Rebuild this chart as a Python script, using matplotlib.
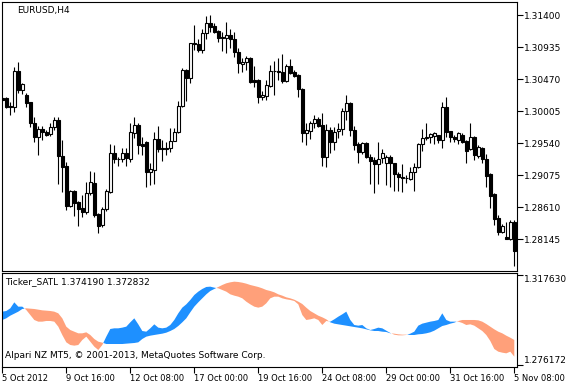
import numpy as np
import matplotlib.pyplot as plt

# EURUSD H4 candles, 5 Oct 2012 00:00 .. 5 Nov 2012 08:00
opens = [1.30189, 1.30192, 1.30080, 1.30061, 1.30588, 1.30312, 1.30240, 1.30134, 1.29838, 1.29626,
         1.29742, 1.29707, 1.29674, 1.29771, 1.29877, 1.29359, 1.29209, 1.28629, 1.28847, 1.28691,
         1.28596, 1.28546, 1.28813, 1.28967, 1.28508, 1.28353, 1.28581, 1.28836, 1.29394, 1.29314,
         1.29307, 1.29394, 1.29307, 1.29693, 1.29804, 1.29529, 1.29553, 1.29127, 1.29151, 1.29597,
         1.29466, 1.29466, 1.29466, 1.29576, 1.29707, 1.30080, 1.30602, 1.30482, 1.30998, 1.30975,
         1.30892, 1.31135, 1.31280, 1.31241, 1.31168, 1.31081, 1.31071, 1.31110, 1.31048, 1.30859,
         1.30689, 1.30714, 1.30772, 1.30457, 1.30457, 1.30206, 1.30229, 1.30370, 1.30591, 1.30583,
         1.30578, 1.30443, 1.30660, 1.30578, 1.30530, 1.30322, 1.29693, 1.29722, 1.29838, 1.29891,
         1.29804, 1.29344, 1.29732, 1.29562, 1.29717, 1.29742, 1.30007, 1.30119, 1.29732, 1.29529,
         1.29417, 1.29539, 1.29336, 1.29296, 1.29238, 1.29321, 1.29249, 1.29344, 1.29249, 1.29093,
         1.29050, 1.29040, 1.29021, 1.29127, 1.29190, 1.29524, 1.29611, 1.29626, 1.29649, 1.29659,
         1.29587, 1.30061, 1.29717, 1.29634, 1.29587, 1.29659, 1.29576, 1.29452, 1.29634, 1.29354,
         1.29475, 1.29307, 1.29089, 1.28803, 1.28450, 1.28256, 1.28184, 1.28146, 1.28396]
highs = [1.30211, 1.30215, 1.30142, 1.30650, 1.30723, 1.30414, 1.30264, 1.30138, 1.29925, 1.29790,
         1.29790, 1.29732, 1.29829, 1.29925, 1.29916, 1.29587, 1.29267, 1.28861, 1.28861, 1.28701,
         1.28789, 1.28977, 1.29137, 1.29122, 1.28523, 1.28618, 1.28871, 1.29524, 1.29514, 1.29344,
         1.29466, 1.29471, 1.29838, 1.29925, 1.29838, 1.29630, 1.29572, 1.29253, 1.29707, 1.29790,
         1.29587, 1.29562, 1.29756, 1.29761, 1.30152, 1.30627, 1.30612, 1.30998, 1.31255, 1.31048,
         1.31193, 1.31386, 1.31400, 1.31280, 1.31183, 1.31149, 1.31294, 1.31193, 1.31158, 1.30926,
         1.30781, 1.30805, 1.30787, 1.30660, 1.30472, 1.30302, 1.30457, 1.30675, 1.30737, 1.30772,
         1.30834, 1.30689, 1.30758, 1.30602, 1.30544, 1.30337, 1.29833, 1.29867, 1.29949, 1.29925,
         1.29983, 1.29819, 1.29780, 1.29780, 1.29829, 1.30047, 1.30240, 1.30142, 1.29790, 1.29562,
         1.29562, 1.29562, 1.29379, 1.29336, 1.29562, 1.29452, 1.29369, 1.29369, 1.29253, 1.29122,
         1.29238, 1.29079, 1.29199, 1.29257, 1.29539, 1.29742, 1.29838, 1.29684, 1.29698, 1.29659,
         1.30142, 1.30215, 1.29717, 1.29659, 1.29698, 1.29684, 1.29587, 1.29829, 1.29645, 1.29514,
         1.29489, 1.29383, 1.29103, 1.28822, 1.28498, 1.28368, 1.28401, 1.28426, 1.28426]
lows = [1.30152, 1.30047, 1.29949, 1.29997, 1.30264, 1.30254, 1.30061, 1.29780, 1.29562, 1.29369,
        1.29587, 1.29649, 1.29649, 1.29732, 1.28951, 1.28835, 1.28571, 1.28610, 1.28484, 1.28339,
        1.28474, 1.28513, 1.28789, 1.28465, 1.28242, 1.28320, 1.28561, 1.28813, 1.29249, 1.29214,
        1.29263, 1.29214, 1.29272, 1.29611, 1.29383, 1.29369, 1.28909, 1.28934, 1.28948, 1.29417,
        1.29286, 1.29369, 1.29417, 1.29572, 1.29693, 1.30070, 1.30157, 1.30418, 1.30892, 1.30868,
        1.30853, 1.31048, 1.31149, 1.31135, 1.31013, 1.30882, 1.30845, 1.30917, 1.30795, 1.30563,
        1.30578, 1.30602, 1.30418, 1.30351, 1.30128, 1.30167, 1.30167, 1.30351, 1.30240, 1.30457,
        1.30418, 1.30433, 1.30544, 1.30505, 1.30215, 1.29562, 1.29514, 1.29597, 1.29756, 1.29780,
        1.29209, 1.29199, 1.29402, 1.29441, 1.29611, 1.29659, 1.29877, 1.29649, 1.29441, 1.29257,
        1.29383, 1.29321, 1.28951, 1.28813, 1.28951, 1.29249, 1.28941, 1.28908, 1.28851, 1.28851,
        1.28836, 1.28963, 1.29006, 1.28851, 1.29176, 1.29431, 1.29587, 1.29547, 1.29529, 1.29547,
        1.29466, 1.29626, 1.29562, 1.29562, 1.29529, 1.29539, 1.29249, 1.29441, 1.29296, 1.29321,
        1.29257, 1.28909, 1.28600, 1.28353, 1.28208, 1.28242, 1.28146, 1.28136, 1.27758]
closes = [1.30174, 1.30070, 1.30065, 1.30588, 1.30312, 1.30399, 1.30128, 1.29829, 1.29626, 1.29742,
          1.29707, 1.29659, 1.29771, 1.29877, 1.29359, 1.29199, 1.28629, 1.28847, 1.28677, 1.28581,
          1.28546, 1.28813, 1.28977, 1.28498, 1.28343, 1.28585, 1.28847, 1.29394, 1.29307, 1.29304,
          1.29394, 1.29321, 1.29698, 1.29804, 1.29514, 1.29504, 1.29127, 1.29161, 1.29597, 1.29452,
          1.29452, 1.29452, 1.29576, 1.29707, 1.30080, 1.30602, 1.30482, 1.30990, 1.30975, 1.30892,
          1.31135, 1.31280, 1.31231, 1.31149, 1.31071, 1.31071, 1.31110, 1.31048, 1.30859, 1.30700,
          1.30723, 1.30772, 1.30433, 1.30433, 1.30206, 1.30240, 1.30385, 1.30588, 1.30583, 1.30576,
          1.30443, 1.30660, 1.30563, 1.30515, 1.30322, 1.29693, 1.29732, 1.29838, 1.29891, 1.29790,
          1.29344, 1.29732, 1.29562, 1.29707, 1.29746, 1.30007, 1.30119, 1.29732, 1.29514, 1.29417,
          1.29539, 1.29336, 1.29286, 1.29238, 1.29307, 1.29394, 1.29336, 1.29249, 1.29093, 1.29045,
          1.29040, 1.29031, 1.29127, 1.29190, 1.29524, 1.29611, 1.29634, 1.29669, 1.29684, 1.29587,
          1.30061, 1.29707, 1.29626, 1.29597, 1.29684, 1.29562, 1.29431, 1.29634, 1.29369, 1.29481,
          1.29307, 1.29064, 1.28774, 1.28440, 1.28256, 1.28339, 1.28150, 1.28401, 1.27976]

# Ticker_SATL indicator: the two filled lines
satl_fast = [1.30075, 1.30105, 1.30228, 1.30504, 1.30305, 1.30305, 1.30151, 1.29921, 1.29691, 1.29614,
             1.29614, 1.29645, 1.29645, 1.29614, 1.29384, 1.29000, 1.28662, 1.28539, 1.28509, 1.28539,
             1.28770, 1.28923, 1.28693, 1.28463, 1.28309, 1.28539, 1.28923, 1.29276, 1.29307, 1.29307,
             1.29338, 1.29384, 1.29583, 1.29768, 1.29491, 1.29184, 1.29153, 1.29307, 1.29491, 1.29338,
             1.29307, 1.29338, 1.29460, 1.29691, 1.29998, 1.30259, 1.30412, 1.30612, 1.30842, 1.30996,
             1.31119, 1.31211, 1.31226, 1.31180, 1.31149, 1.31073, 1.30996, 1.30873, 1.30812, 1.30765,
             1.30689, 1.30535, 1.30412, 1.30305, 1.30259, 1.30305, 1.30458, 1.30689, 1.30765, 1.30765,
             1.30689, 1.30643, 1.30612, 1.30566, 1.30412, 1.29921, 1.29691, 1.29721, 1.29768, 1.29691,
             1.29460, 1.29645, 1.29614, 1.29721, 1.29844, 1.29952, 1.30075, 1.29691, 1.29460, 1.29430,
             1.29460, 1.29307, 1.29230, 1.29276, 1.29338, 1.29307, 1.29199, 1.29092, 1.29015, 1.28985,
             1.28985, 1.29000, 1.29061, 1.29153, 1.29430, 1.29522, 1.29568, 1.29614, 1.29645, 1.29691,
             1.29998, 1.29691, 1.29614, 1.29614, 1.29614, 1.29553, 1.29460, 1.29491, 1.29430, 1.29307,
             1.29184, 1.29000, 1.28724, 1.28355, 1.28232, 1.28186, 1.28155, 1.28232, 1.28002]
satl_slow = [1.29691, 1.29768, 1.29890, 1.29982, 1.30075, 1.30197, 1.30228, 1.30213, 1.30197, 1.30167,
             1.30136, 1.30121, 1.30105, 1.30075, 1.29998, 1.29768, 1.29384, 1.29230, 1.29153, 1.29077,
             1.29077, 1.29123, 1.29000, 1.28816, 1.28693, 1.28647, 1.28585, 1.28585, 1.28585, 1.28585,
             1.28585, 1.28601, 1.28616, 1.28631, 1.28662, 1.28816, 1.28923, 1.28969, 1.29000, 1.29031,
             1.29061, 1.29107, 1.29184, 1.29276, 1.29414, 1.29583, 1.29768, 1.30044, 1.30305, 1.30504,
             1.30689, 1.30873, 1.31026, 1.31119, 1.31211, 1.31303, 1.31380, 1.31426, 1.31456, 1.31441,
             1.31410, 1.31364, 1.31303, 1.31257, 1.31211, 1.31149, 1.31073, 1.31026, 1.30965, 1.30873,
             1.30812, 1.30735, 1.30689, 1.30627, 1.30535, 1.30428, 1.30259, 1.30105, 1.29998, 1.29890,
             1.29814, 1.29721, 1.29583, 1.29522, 1.29491, 1.29460, 1.29430, 1.29399, 1.29368, 1.29338,
             1.29307, 1.29261, 1.29215, 1.29184, 1.29184, 1.29153, 1.29138, 1.29077, 1.29061, 1.29031,
             1.29015, 1.29015, 1.29000, 1.29000, 1.29031, 1.29046, 1.29077, 1.29123, 1.29199, 1.29307,
             1.29414, 1.29460, 1.29522, 1.29568, 1.29645, 1.29691, 1.29691, 1.29691, 1.29691, 1.29675,
             1.29614, 1.29506, 1.29384, 1.29261, 1.29153, 1.29077, 1.28969, 1.28877, 1.28770]

price_ticks = [1.31400, 1.30935, 1.30470, 1.30005, 1.29540, 1.29075, 1.28610, 1.28145]
sub_ticks = [1.317630, 1.276172]
time_labels = ['5 Oct 2012', '9 Oct 16:00', '12 Oct 08:00', '17 Oct 00:00', '19 Oct 16:00',
               '24 Oct 08:00', '29 Oct 00:00', '31 Oct 16:00', '5 Nov 08:00']

BLUE = '#1E90FF'
SALMON = '#FFA07A'
FS = 6.5
W, H = 567, 384

fig = plt.figure(figsize=(W / 100, H / 100), dpi=100)
ax = fig.add_axes([2 / W, 1 - 271 / H, 515 / W, 269 / H])
ax2 = fig.add_axes([2 / W, 1 - 367 / H, 515 / W, 94 / H])

o, h, l, c = (np.array(v) for v in (opens, highs, lows, closes))
x = np.arange(len(o))

# candles
ax.vlines(x, l, h, color='black', linewidth=0.8, zorder=2)
bull = c >= o
ax.bar(x, np.abs(c - o), bottom=np.minimum(o, c), width=0.62,
       color=np.where(bull, 'white', 'black'), edgecolor='black', linewidth=0.8, zorder=3)

ax.set_xlim(-0.075, 128.675)
ax.set_ylim(1.27686, 1.31589)
ax.set_xticks([])
ax.yaxis.tick_right()
ax.set_yticks(price_ticks)
ax.set_yticklabels([f'{v:.5f}' for v in price_ticks])
ax.tick_params(axis='y', direction='out', length=4, width=0.8, pad=1, labelsize=FS)
ax.text(15 / 515, 1 - 8 / 269, 'EURUSD,H4', transform=ax.transAxes, fontsize=FS,
        ha='left', va='center')

# indicator window
a = np.array(satl_fast)
b = np.array(satl_slow)
ax2.fill_between(x, a, b, where=a >= b, interpolate=True, color=BLUE, linewidth=0)
ax2.fill_between(x, a, b, where=a <= b, interpolate=True, color=SALMON, linewidth=0)
ax2.set_xlim(-0.075, 128.675)
ax2.set_ylim(1.27526, 1.31855)
ax2.yaxis.tick_right()
ax2.set_yticks(sub_ticks)
ax2.set_yticklabels([f'{v:.6f}' for v in sub_ticks])
ax2.tick_params(axis='y', direction='out', length=4, width=0.8, pad=1, labelsize=FS)
ylabs = ax2.get_yticklabels()
ylabs[0].set_va('top')
ylabs[1].set_va('bottom')

ax2.set_xticks(np.arange(0, len(x), 16))
ax2.set_xticklabels(time_labels)
ax2.tick_params(axis='x', direction='out', length=4, width=0.8, pad=1, labelsize=6.0)
for t in ax2.get_xticklabels():
    t.set_ha('left')

ax2.text(3 / 515, 1 - 9 / 94, 'Ticker_SATL 1.374190 1.372832', transform=ax2.transAxes,
         fontsize=FS, ha='left', va='center')
ax2.text(3 / 515, 12 / 94, 'Alpari NZ MT5, \u00a9 2001-2013, MetaQuotes Software Corp.',
         transform=ax2.transAxes, fontsize=FS, ha='left', va='center')

for axis in (ax, ax2):
    for sp in axis.spines.values():
        sp.set_linewidth(0.8)

fig.savefig('out.png', dpi=100)
